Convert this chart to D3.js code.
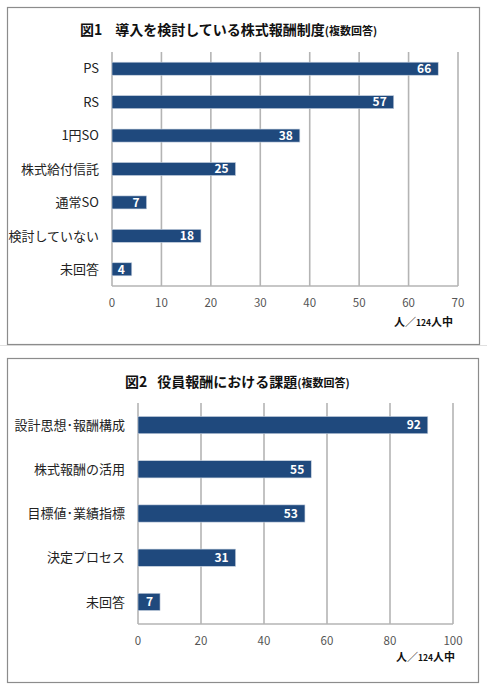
<!DOCTYPE html>
<html><head>
<meta charset="utf-8">
<script src="https://d3js.org/d3.v7.min.js"></script>
<style>
  body { margin: 0; background: #fff; }
  text { font-family: "Noto Sans CJK JP", "Noto Sans", sans-serif; }
</style>
</head>
<body>
<svg id="chart" width="487" height="690"></svg>
<script>
// --- data ---
let cats1 = ["PS", "RS", "1円SO", "株式給付信託", "通常SO", "検討していない", "未回答"];
let vals1 = [66, 57, 38, 25, 7, 18, 4];
let ticks1 = [0, 10, 20, 30, 40, 50, 60, 70];

let cats2 = ["設計思想･報酬構成", "株式報酬の活用", "目標値･業績指標", "決定プロセス", "未回答"];
let vals2 = [92, 55, 53, 31, 7];
let ticks2 = [0, 20, 40, 60, 80, 100];

let svg = d3.select("#chart");

// thin gray separator between the two panels
svg.append("line").attr("x1", 0).attr("x2", 487).attr("y1", 345.5).attr("y2", 345.5)
    .attr("stroke", "#e0e0e0").attr("stroke-width", 1);

function drawChart(opt) {
  let g = svg.append("g");

  // outer frame
  g.append("rect")
      .attr("x", opt.box[0] + 0.5).attr("y", opt.box[1] + 0.5)
      .attr("width", opt.box[2]).attr("height", opt.box[3])
      .attr("fill", "#fff").attr("stroke", "#8c8c8c").attr("stroke-width", 1.2);

  // title: figure number, main text, smaller "(複数回答)" tail
  let t = g.append("text")
      .attr("x", opt.titleX).attr("y", opt.titleY)
      .attr("font-weight", "bold").attr("font-size", 14).attr("fill", "#111");
  t.append("tspan").text(opt.fig);
  t.append("tspan").attr("dx", opt.titleGap).text(opt.title);
  t.append("tspan").attr("font-size", 11).text("(複数回答)");

  let x = d3.scaleLinear().domain([0, opt.max]).range([opt.left, opt.right]);
  let y = d3.scaleBand().domain(opt.cats).range([opt.top, opt.bottom]).paddingInner(opt.pad).paddingOuter(opt.pad / 2);

  // vertical gridlines
  g.selectAll(".grid").data(opt.ticks.slice(1)).join("line")
      .attr("x1", d => x(d)).attr("x2", d => x(d))
      .attr("y1", opt.top).attr("y2", opt.bottom)
      .attr("stroke", "#b4b4b4").attr("stroke-width", 1.6);

  // axis lines
  g.append("line").attr("x1", x(0)).attr("x2", x(0)).attr("y1", opt.top).attr("y2", opt.bottom)
      .attr("stroke", "#b4b4b4").attr("stroke-width", 1.6);
  g.append("line").attr("x1", x(0)).attr("x2", x(opt.max)).attr("y1", opt.bottom).attr("y2", opt.bottom)
      .attr("stroke", "#b4b4b4").attr("stroke-width", 1.6);

  // bars
  let data = opt.cats.map((c, i) => ({ c: c, v: opt.vals[i] }));
  g.selectAll(".bar").data(data).join("rect")
      .attr("x", x(0)).attr("y", d => y(d.c))
      .attr("width", d => x(d.v) - x(0)).attr("height", y.bandwidth())
      .attr("fill", "#1f497d").attr("stroke", "#c8d2e0").attr("stroke-width", 0.6);

  // value labels inside bar end
  g.selectAll(".val").data(data).join("text")
      .attr("x", d => x(d.v) - 7).attr("y", d => y(d.c) + y.bandwidth() / 2)
      .attr("dy", "0.36em").attr("text-anchor", "end")
      .attr("font-size", 12).attr("font-weight", "bold").attr("fill", "#fff")
      .text(d => d.v);

  // category labels
  g.selectAll(".cat").data(data).join("text")
      .attr("x", opt.left - 13).attr("y", d => y(d.c) + y.bandwidth() / 2)
      .attr("dy", "0.36em").attr("text-anchor", "end")
      .attr("font-size", 13).attr("fill", "#222")
      .text(d => d.c);

  // tick labels
  g.selectAll(".tick").data(opt.ticks).join("text")
      .attr("x", d => x(d)).attr("y", opt.tickY)
      .attr("dy", "0.36em").attr("text-anchor", "middle")
      .attr("font-size", 11.5).attr("fill", "#555")
      .text(d => d);

  // unit label
  let u = g.append("text")
      .attr("x", opt.unitX).attr("y", opt.unitY).attr("dy", "0.36em")
      .attr("text-anchor", "end").attr("font-weight", "bold").attr("font-size", 11).attr("fill", "#111");
  u.append("tspan").text("人／");
  u.append("tspan").attr("font-size", 8.5).text("124");
  u.append("tspan").text("人中");
}

drawChart({
  box: [7, 7, 472, 337], fig: "図1", titleGap: 13, title: "導入を検討している株式報酬制度", titleX: 80, titleY: 35,
  cats: cats1, vals: vals1, ticks: ticks1, max: 70,
  left: 112, right: 458, top: 52, bottom: 286, pad: 0.61,
  tickY: 303, unitX: 453, unitY: 322
});

drawChart({
  box: [7, 358, 471, 324], fig: "図2", titleGap: 10, title: "役員報酬における課題", titleX: 125, titleY: 387,
  cats: cats2, vals: vals2, ticks: ticks2, max: 100,
  left: 138, right: 453, top: 403, bottom: 624, pad: 0.61,
  tickY: 641, unitX: 455, unitY: 657
});
</script>
</body>
</html>
